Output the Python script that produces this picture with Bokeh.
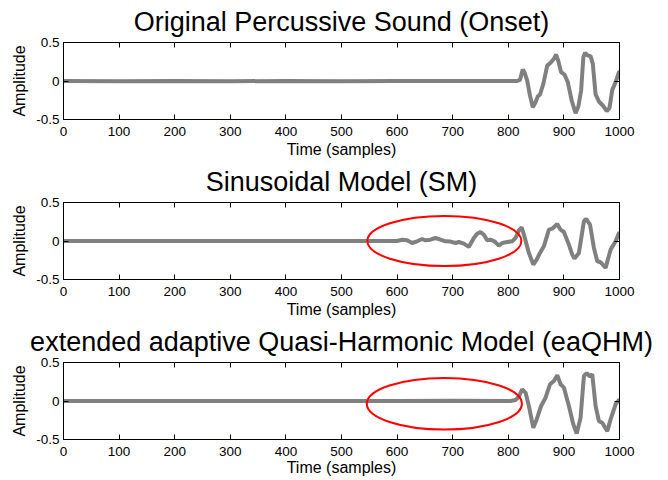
from bokeh.plotting import figure
from bokeh.models import Range1d, LinearAxis, FixedTicker
from bokeh.layouts import column
from bokeh.embed import file_html
from bokeh.resources import INLINE

titles = ["Original Percussive Sound (Onset)",
          "Sinusoidal Model (SM)",
          "extended adaptive Quasi-Harmonic Model (eaQHM)"]
x_label = "Time (samples)"
y_label = "Amplitude"
x_ticks = [0, 100, 200, 300, 400, 500, 600, 700, 800, 900, 1000]
y_ticks = [-0.5, 0, 0.5]
y_tick_labels = ["-0.5", "0", "0.5"]

# Original signal
orig_t = [0, 100, 200, 300, 400, 500, 600, 700, 800, 816, 821, 826, 829, 834, 839, 844,
          849, 853, 857, 863, 870, 876, 882, 886, 890, 895, 901, 907, 914, 921, 926, 931,
          935, 938, 943, 948, 952, 957, 963, 970, 977, 982, 987, 993, 999, 1000]
orig_a = [0, -0.004, 0, -0.003, 0, -0.002, 0, 0, 0, 0, 0.015, 0.15, 0.115, 0.006, -0.19, -0.34,
          -0.275, -0.2, -0.175, -0.037, 0.2, 0.236, 0.288, 0.344, 0.258, 0.115, 0.084, -0.015, -0.253, -0.418, -0.33, -0.123,
          0.31, 0.366, 0.331, 0.323, 0.223, -0.175, -0.266, -0.318, -0.392, -0.349, -0.115, -0.015, 0.115, 0.12]

# Sinusoidal Model
sm_t = [0, 100, 200, 300, 400, 500, 600, 609, 618, 627, 636, 645, 651, 660, 669, 678, 687, 696,
        705, 711, 720, 729, 738, 744, 750, 756, 762, 768, 775, 783, 789, 798, 807, 813, 819, 824,
        829, 837, 845, 851, 857, 864, 873, 879, 888, 894, 900, 909, 915, 919, 927, 936, 940, 947,
        954, 960, 966, 975, 984, 993, 999, 1000]
sm_a = [0, 0, 0, 0, 0, 0, 0, 0.017, 0.009, -0.026, -0.004, 0.026, 0.009, 0.017, 0.039, 0.017, -0.004, -0.008,
        -0.026, -0.013, -0.034, -0.077, 0.039, 0.095, 0.117, 0.082, 0.009, 0.017, -0.004, -0.06, -0.026, -0.013, -0.004, 0.039, 0.138, 0.177,
        0.06, -0.155, -0.306, -0.241, -0.155, -0.069, 0.147, 0.16, 0.22, 0.147, 0.117, -0.047, -0.177, -0.228, -0.155, 0.255, 0.289, 0.211,
        -0.09, -0.263, -0.276, -0.349, -0.112, -0.004, 0.104, 0.11]

# eaQHM
qhm_t = [0, 100, 200, 300, 400, 500, 600, 700, 804, 813, 819, 825, 831, 837, 845, 851, 859, 867,
         875, 882, 888, 894, 900, 909, 917, 923, 930, 936, 941, 947, 951, 957, 963, 969, 978, 984,
         993, 999, 1000]
qhm_a = [0, 0, 0, 0, 0, 0, 0, 0.002, 0, 0.013, 0.056, 0.152, 0.109, -0.065, -0.348, -0.239, -0.065, 0.043,
         0.217, 0.261, 0.335, 0.217, 0.174, -0.065, -0.304, -0.422, -0.217, 0.326, 0.361, 0.317, 0.348, -0.065, -0.261, -0.283, -0.391, -0.239,
         -0.043, 0.013, 0.02]

# highlight ellipses (center x, center y, width, height) per panel, None = no ellipse
ellipse_cx = [None, 685, 685]
ellipse_cy = [None, 0.0, -0.035]
ellipse_w = [None, 277, 279]
ellipse_h = [None, 0.65, 0.67]

series_t = [orig_t, sm_t, qhm_t]
series_a = [orig_a, sm_a, qhm_a]
tops = [42, 40, 40]
bottoms = [43, 43, 41]
xlabel_standoffs = [2, 2, 0]

FONT = "Liberation Sans"


def make_panel(i):
    p = figure(frame_width=556, frame_height=77, output_backend="svg", toolbar_location=None,
               x_range=Range1d(0, 1000), y_range=Range1d(-0.5, 0.5),
               min_border_left=63, min_border_right=35, min_border_top=tops[i],
               min_border_bottom=bottoms[i],
               x_axis_label=x_label, y_axis_label=y_label)
    p.xgrid.visible = False
    p.ygrid.visible = False
    p.outline_line_color = "black"
    p.outline_line_width = 1
    p.background_fill_color = "white"
    p.border_fill_color = "white"

    xa = p.xaxis[0]
    xa.ticker = FixedTicker(ticks=x_ticks)
    xa.major_tick_in = 5
    xa.major_tick_out = 0
    xa.minor_tick_line_color = None
    xa.major_label_standoff = 7
    xa.major_label_text_font = FONT
    xa.major_label_text_font_size = "13.5px"
    xa.major_label_text_color = "black"
    xa.axis_line_color = "black"
    xa.axis_label_text_font = FONT
    xa.axis_label_text_font_size = "16px"
    xa.axis_label_text_font_style = "normal"
    xa.axis_label_text_color = "black"
    xa.axis_label_standoff = xlabel_standoffs[i]

    ya = p.yaxis[0]
    ya.ticker = FixedTicker(ticks=y_ticks)
    ya.major_label_overrides = {t: s for t, s in zip(y_ticks, y_tick_labels)}
    ya.major_tick_in = 5
    ya.major_tick_out = 0
    ya.minor_tick_line_color = None
    ya.major_label_standoff = 4
    ya.major_label_text_font = FONT
    ya.major_label_text_font_size = "13.5px"
    ya.major_label_text_color = "black"
    ya.axis_line_color = "black"
    ya.axis_label_text_font = FONT
    ya.axis_label_text_font_size = "16px"
    ya.axis_label_text_font_style = "normal"
    ya.axis_label_text_color = "black"
    ya.axis_label_standoff = 5

    top = LinearAxis(ticker=FixedTicker(ticks=x_ticks), major_tick_in=5, major_tick_out=0,
                     minor_tick_line_color=None, major_label_text_font_size="0px",
                     major_label_text_color=None,
                     major_label_standoff=0, axis_line_color="black",
                     axis_label=titles[i], axis_label_text_font=FONT,
                     axis_label_text_font_size="27px", axis_label_text_font_style="normal",
                     axis_label_text_color="black", axis_label_standoff=6)
    p.add_layout(top, "above")
    right = LinearAxis(ticker=FixedTicker(ticks=y_ticks), major_tick_in=5, major_tick_out=0,
                       minor_tick_line_color=None, major_label_text_font_size="0px",
                       major_label_text_color=None,
                       major_label_standoff=0, axis_line_color="black")
    p.add_layout(right, "right")

    p.line(series_t[i], series_a[i], line_color="#808080", line_width=4)

    if ellipse_cx[i] is not None:
        p.ellipse(x=[ellipse_cx[i]], y=[ellipse_cy[i]], width=[ellipse_w[i]], height=[ellipse_h[i]],
                  fill_color=None, line_color="red", line_width=2)
    return p


panels = [make_panel(i) for i in range(3)]
layout = column(*panels, spacing=0)
open("out.html", "w").write(file_html(layout, INLINE))
